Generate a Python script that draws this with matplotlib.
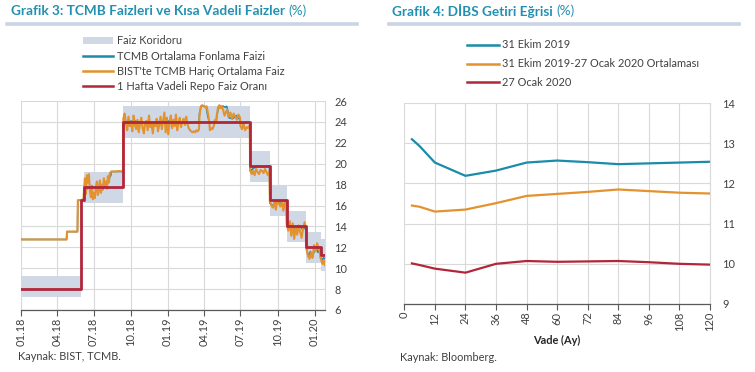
import matplotlib
matplotlib.use('Agg')
import matplotlib.pyplot as plt
import matplotlib.dates as mdates
import pandas as pd
from matplotlib.lines import Line2D
from matplotlib.patches import Patch

plt.rcParams['font.family'] = ['Lato', 'DejaVu Sans']

# ---------------- Left chart data ----------------
period_starts = ['2018-01-01', '2018-04-26', '2018-05-23', '2018-06-07', '2018-08-14',
                 '2018-09-13', '2019-03-21', '2019-04-16', '2019-05-03', '2019-06-02',
                 '2019-07-01', '2019-07-25', '2019-09-12', '2019-10-24', '2019-12-12',
                 '2020-01-16']
period_ends = ['2018-04-25', '2018-05-22', '2018-06-06', '2018-08-13', '2018-09-12',
               '2019-03-20', '2019-04-15', '2019-05-02', '2019-06-01', '2019-06-30',
               '2019-07-24', '2019-09-11', '2019-10-23', '2019-12-11', '2020-01-15',
               '2020-01-27']

bist_segments = [
    [12.75, 12.75],
    [13.5, 13.5],
    [16.5, 16.5, 16.6],
    [17.3, 18.6, 17.1, 18.9, 18.2, 19.0, 17.4, 16.8, 17.9, 16.6, 17.2, 16.7, 17.8, 18.3,
     17.0, 17.6, 18.4, 17.2, 18.0, 17.5, 18.6, 17.9, 18.3, 17.6, 18.8, 18.2, 19.1, 19.2],
    [19.25, 19.25, 19.3, 19.25],
    [24.3, 24.8, 23.9, 23.2, 24.5, 23.6, 24.0, 23.1, 24.6, 23.7, 23.3, 24.2, 23.0, 23.8,
     24.4, 23.4, 22.9, 23.9, 24.1, 23.2, 24.6, 23.5, 23.8, 22.9, 24.0, 23.6, 24.3, 23.1,
     23.7, 24.5, 23.3, 24.1, 24.9, 23.0, 24.4, 22.8, 23.9, 24.6, 23.4, 24.2, 23.6, 24.7,
     23.2, 23.9, 24.4, 23.5, 24.0, 24.3, 23.7, 24.5, 23.8, 23.4, 23.2, 23.1, 23.0, 23.1,
     23.0, 23.2, 23.1, 23.3],
    [24.5, 25.5, 25.6, 25.5, 25.4, 25.5, 24.8, 23.8],
    [23.2, 23.4, 23.3, 23.6, 24.2, 24.0],
    [24.6, 25.4, 25.6, 25.3, 25.5, 25.1, 24.6, 24.9, 25.2, 24.5],
    [24.6, 24.9, 24.3, 24.8, 24.5, 24.2, 24.7, 24.4],
    [23.6, 23.3, 23.8, 23.2, 23.5, 23.4, 23.7],
    [19.4, 19.0, 19.3, 18.9, 19.5, 19.2, 19.0, 19.4, 19.3, 19.1, 19.5, 19.2, 18.9, 19.3],
    [16.4, 16.0, 15.8, 16.3, 15.6, 16.5, 16.2, 15.9, 16.4, 15.5, 16.3, 16.1],
    [14.2, 13.6, 14.5, 13.1, 14.3, 12.8, 13.9, 13.2, 14.1, 13.5, 12.9, 13.8, 14.4, 13.7],
    [11.8, 11.2, 10.9, 11.5, 11.0, 12.2, 11.6, 12.4, 11.9, 11.4],
    [11.0, 10.6, 10.4, 10.8, 10.3],
]

tcmb_segments = [
    [12.75, 12.75],
    [13.5, 13.5],
    [16.5, 16.5],
    [17.0, 17.6, 17.75, 17.75, 17.8, 17.75, 17.75, 17.9, 18.3, 18.9],
    [19.25, 19.25],
    [24.0, 24.1, 23.9, 24.0, 24.1, 24.0, 23.9, 24.0],
    [24.8, 25.5, 25.5, 25.5, 25.4, 24.5, 24.0],
    [24.0, 24.0, 24.1],
    [24.5, 25.3, 25.5, 25.5, 25.5, 25.4, 25.5, 24.8],
    [24.4, 24.3, 24.6, 24.2],
    [23.9, 23.8, 24.0, 23.9],
    [19.3, 19.6, 19.8, 19.7, 19.75, 19.8],
    [16.2, 16.0, 16.4, 16.3, 16.0, 16.4],
    [14.0, 13.8, 13.6, 13.9, 14.0, 13.7, 13.9],
    [11.9, 11.1, 11.6, 11.0, 11.7, 11.9, 11.5, 11.8],
    [11.0, 10.8, 11.0, 10.9],
]

corridor_starts = ['2018-01-01', '2018-06-07', '2018-09-13', '2019-07-25', '2019-09-12',
                   '2019-10-24', '2019-12-12', '2020-01-16']
corridor_ends = ['2018-06-01', '2018-09-13', '2019-07-25', '2019-09-12', '2019-10-24',
                 '2019-12-12', '2020-01-16', '2020-01-27']
corridor_low = [7.25, 16.25, 22.5, 18.25, 15.0, 12.5, 10.5, 9.75]
corridor_high = [9.25, 19.25, 25.5, 21.25, 18.0, 15.5, 13.5, 12.75]

repo_dates = ['2018-01-01', '2018-06-01', '2018-06-07', '2018-09-13', '2019-07-25',
              '2019-09-12', '2019-10-24', '2019-12-12', '2020-01-16', '2020-01-27']
repo_rates = [8.0, 16.5, 17.75, 24.0, 19.75, 16.5, 14.0, 12.0, 11.25, 11.25]

left_legend_labels = ['Faiz Koridoru', 'TCMB Ortalama Fonlama Faizi',
                      "BIST'te TCMB Hariç Ortalama Faiz", '1 Hafta Vadeli Repo Faiz Oranı']

# ---------------- Right chart data ----------------
maturity_months = [3, 6, 12, 24, 36, 48, 60, 72, 84, 96, 108, 120]
yield_31oct2019 = [13.10, 12.93, 12.52, 12.19, 12.32, 12.52, 12.57, 12.53, 12.48, 12.50, 12.52, 12.54]
yield_average = [11.45, 11.42, 11.30, 11.35, 11.51, 11.69, 11.74, 11.79, 11.85, 11.81, 11.77, 11.75]
yield_27jan2020 = [10.01, 9.97, 9.88, 9.78, 10.00, 10.07, 10.05, 10.06, 10.07, 10.04, 10.00, 9.98]
right_legend_labels = ['31 Ekim 2019', '31 Ekim 2019-27 Ocak 2020 Ortalaması', '27 Ocak 2020']

# ---------------- Styles ----------------
TEAL = '#1B8BAA'
ORANGE = '#E3922E'
RED = '#B2263A'
BAND = '#D0D8E6'
GRID = '#D9D9D9'
TITLE_C = '#2290B0'
TXT = '#404040'
FS = 7.9

W, H = 755, 372
fig = plt.figure(figsize=(W / 100, H / 100), dpi=100)


def fx(px):
    return px / W


def fy(py):
    return 1 - py / H


def build(segments):
    xs, ys = [], []
    for s, e, v in zip(period_starts, period_ends, segments):
        xs.extend(pd.date_range(s, e, periods=len(v)))
        ys.extend(v)
    return xs, ys


# ---------------- Left axes ----------------
axL = fig.add_axes([fx(20.7), fy(310), fx(325) - fx(20.7), fy(101) - fy(310)])
for s, e, lo, hi in zip(corridor_starts, corridor_ends, corridor_low, corridor_high):
    axL.fill_between(pd.to_datetime([s, e]), [lo, lo], [hi, hi], color=BAND, lw=0, zorder=1)
tx, ty = build(tcmb_segments)
axL.plot(tx, ty, color=TEAL, lw=1.1, zorder=3)
bx, by = build(bist_segments)
axL.plot(bx, by, color=ORANGE, lw=1.5, zorder=4)
axL.plot(pd.to_datetime(repo_dates), repo_rates, color=RED, lw=2.0, drawstyle='steps-post', zorder=5)

axL.set_xlim(pd.Timestamp('2018-01-01'), pd.Timestamp('2020-01-27'))
axL.set_ylim(6, 26)
axL.set_yticks(range(6, 27, 2))
axL.yaxis.tick_right()
axL.xaxis.set_major_locator(mdates.MonthLocator(bymonth=[1, 4, 7, 10]))
axL.xaxis.set_major_formatter(mdates.DateFormatter('%m.%y'))
axL.tick_params(axis='y', length=0, pad=6.5, labelsize=FS, labelcolor=TXT)
axL.tick_params(axis='x', length=4, width=0.8, color='#595959', pad=1.5, labelsize=FS,
                labelcolor=TXT, labelrotation=90)
axL.grid(True, color=GRID, lw=0.8, zorder=0)
axL.set_axisbelow(True)
for sp in ['top', 'left']:
    axL.spines[sp].set_visible(False)
axL.spines['right'].set_color(GRID)
axL.spines['right'].set_linewidth(0.8)
axL.spines['bottom'].set_color('#595959')
axL.spines['bottom'].set_linewidth(0.9)

handlesL = [Patch(facecolor=BAND, edgecolor='none'),
            Line2D([], [], color=TEAL, lw=1.8),
            Line2D([], [], color=ORANGE, lw=1.8),
            Line2D([], [], color=RED, lw=1.8)]
legL = fig.legend(handlesL, left_legend_labels, loc='upper left',
                  bbox_to_anchor=(fx(83), fy(35.5)), frameon=False, fontsize=FS,
                  handlelength=2.75, handleheight=0.6, handletextpad=0.35,
                  labelspacing=0.38, borderpad=0, borderaxespad=0, labelcolor=TXT)

# ---------------- Right axes ----------------
axR = fig.add_axes([fx(404.3), fy(304), fx(710) - fx(404.3), fy(103.1) - fy(304)])
axR.plot(maturity_months, yield_31oct2019, color=TEAL, lw=1.6, zorder=3)
axR.plot(maturity_months, yield_average, color=ORANGE, lw=1.6, zorder=3)
axR.plot(maturity_months, yield_27jan2020, color=RED, lw=1.6, zorder=3)
axR.set_xlim(0, 120)
axR.set_ylim(9, 14)
axR.set_xticks(range(0, 121, 12))
axR.set_yticks(range(9, 15))
axR.yaxis.tick_right()
axR.tick_params(axis='y', length=0, pad=9, labelsize=FS, labelcolor=TXT)
axR.tick_params(axis='x', length=4, width=0.8, color='#595959', pad=1.5, labelsize=FS,
                labelcolor=TXT, labelrotation=90)
axR.grid(True, color=GRID, lw=0.8, zorder=0)
axR.set_axisbelow(True)
for sp in ['top', 'left']:
    axR.spines[sp].set_visible(False)
axR.spines['right'].set_color(GRID)
axR.spines['right'].set_linewidth(0.8)
axR.spines['bottom'].set_color('#595959')
axR.spines['bottom'].set_linewidth(0.9)
axR.set_xlabel('Vade (Ay)', fontsize=FS, fontweight='bold', color='#262626', labelpad=3)

handlesR = [Line2D([], [], color=c, lw=1.8) for c in (TEAL, ORANGE, RED)]
legR = fig.legend(handlesR, right_legend_labels, loc='upper left',
                  bbox_to_anchor=(fx(467), fy(39.5)), frameon=False, fontsize=FS,
                  handlelength=2.95, handletextpad=0.2, labelspacing=0.72,
                  borderpad=0, borderaxespad=0, labelcolor=TXT)

# ---------------- Titles, separators, sources ----------------
renderer = fig.canvas.get_renderer()


def title(x, y, bold_txt, normal_txt):
    t = fig.text(fx(x), fy(y), bold_txt, fontsize=9.8, fontweight='bold', color=TITLE_C,
                 va='center', ha='left')
    bb = t.get_window_extent(renderer=renderer)
    fig.text(bb.x1 / W + fx(3), fy(y), normal_txt, fontsize=9.8, color=TITLE_C,
             va='center', ha='left')


title(11, 11, 'Grafik 3: TCMB Faizleri ve Kısa Vadeli Faizler', '(%)')
title(392.5, 11, 'Grafik 4: DİBS Getiri Eğrisi', '(%)')

fig.add_artist(Line2D([fx(7), fx(357)], [fy(23.5), fy(23.5)], color='#CBD4E4', lw=2.6))
fig.add_artist(Line2D([fx(389), fx(739)], [fy(23.5), fy(23.5)], color='#CBD4E4', lw=2.6))

fig.text(fx(18), fy(357), 'Kaynak: BIST, TCMB.', fontsize=FS, color=TXT, va='center', ha='left')
fig.text(fx(400.5), fy(357.5), 'Kaynak: Bloomberg.', fontsize=FS, color=TXT, va='center', ha='left')

fig.savefig('out.png', dpi=100)
